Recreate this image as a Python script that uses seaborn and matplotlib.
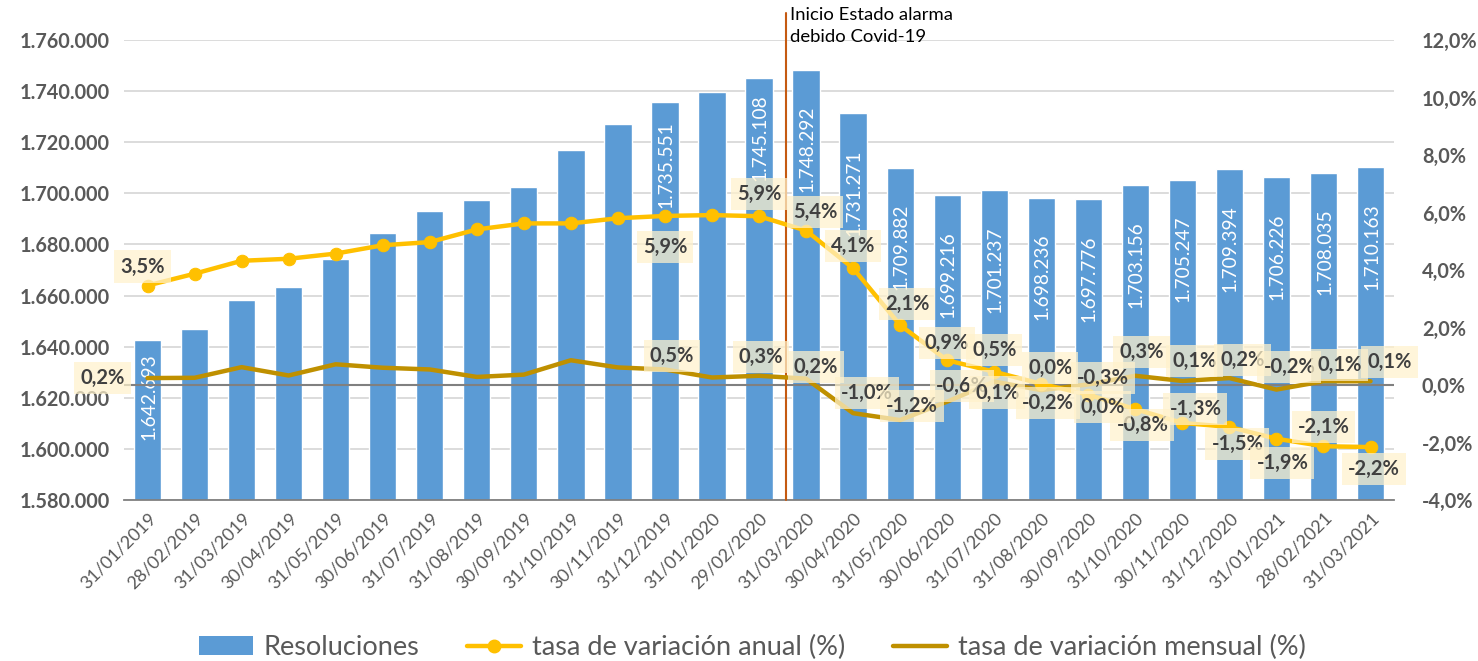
import numpy as np
import pandas as pd
import matplotlib
matplotlib.use('Agg')
import matplotlib.pyplot as plt
import seaborn as sns
from matplotlib.lines import Line2D
from matplotlib.patches import Patch
from matplotlib.ticker import FuncFormatter, FixedLocator

# Data
fechas = ['31/01/2019', '28/02/2019', '31/03/2019', '30/04/2019', '31/05/2019', '30/06/2019',
          '31/07/2019', '31/08/2019', '30/09/2019', '31/10/2019', '30/11/2019', '31/12/2019',
          '31/01/2020', '29/02/2020', '31/03/2020', '30/04/2020', '31/05/2020', '30/06/2020',
          '31/07/2020', '31/08/2020', '30/09/2020', '31/10/2020', '30/11/2020', '31/12/2020',
          '31/01/2021', '28/02/2021', '31/03/2021']
resoluciones = [1642693, 1646900, 1658300, 1663300, 1674200, 1684600,
                1693100, 1697400, 1702500, 1717000, 1727100, 1735551,
                1739700, 1745108, 1748292, 1731271, 1709882, 1699216,
                1701237, 1698236, 1697776, 1703156, 1705247, 1709394,
                1706226, 1708035, 1710163]
tasa_anual = [3.46, 3.87, 4.32, 4.39, 4.57, 4.86, 4.97, 5.41, 5.62, 5.62, 5.80, 5.88,
              5.91, 5.87, 5.37, 4.06, 2.08, 0.86, 0.46, 0.04, -0.34, -0.84, -1.32,
              -1.46, -1.87, -2.13, -2.16]
tasa_mensual = [0.24, 0.25, 0.62, 0.33, 0.72, 0.60, 0.54, 0.28, 0.36, 0.86, 0.61, 0.54,
                0.26, 0.32, 0.22, -0.98, -1.22, -0.58, 0.12, -0.18, 0.02, 0.32, 0.14,
                0.24, -0.16, 0.13, 0.13]

# which points carry a data label
bar_labels = [0, 11] + list(range(13, 27))
line_labels = [0, 11] + list(range(13, 27))

# label offsets in pixels (dx, dy) per point index
off_anual = {0: (-5, 19), 11: (0, -31), 13: (0, 22), 14: (9, 19), 15: (0, 22), 16: (7, 21),
             17: (0, 17), 18: (0, 22), 19: (9, 16), 20: (15, 17), 21: (7, -16), 22: (13, 14),
             23: (8, -17), 24: (6, -24), 25: (0, 19), 26: (3, -22)}
off_mensual = {0: (-45, 0), 11: (7, 13), 13: (2, 19), 14: (10, 12), 15: (14, 20), 16: (12, 14),
               17: (15, 16), 18: (3, -11), 19: (7, -13), 20: (14, -23), 21: (6, 24), 22: (12, 20),
               23: (13, 18), 24: (13, 23), 25: (16, 16), 26: (19, 19)}

df = pd.DataFrame({'fecha': fechas, 'resoluciones': resoluciones,
                   'anual': tasa_anual, 'mensual': tasa_mensual})
df['pos'] = np.arange(len(df))

sns.set_style('white')
plt.rcParams['font.family'] = ['Lato', 'DejaVu Sans']

azul = '#5B9BD5'
amarillo = '#FFC000'
oro = '#BF9000'
gris = '#595959'

fig = plt.figure(figsize=(14.78, 6.61), dpi=100)
ax = fig.add_axes([0.0839, 0.2436, 0.8593, 0.6959])

sns.barplot(data=df, x='fecha', y='resoluciones', color=azul, saturation=1,
            width=0.58, ax=ax, zorder=2)
ax.set_ylim(1580000, 1760000)
ax.set_xlim(-0.5, len(df) - 0.5)
ax.set_yticks(np.arange(1580000, 1760001, 20000))
ax.yaxis.set_major_formatter(FuncFormatter(lambda v, p: f'{int(v):,}'.replace(',', '.')))
ax.grid(axis='y', color='#D9D9D9', linewidth=1.3, zorder=0)
ax.set_axisbelow(True)
ax.set_xlabel('')
ax.set_ylabel('')
for s in ['top', 'right', 'left']:
    ax.spines[s].set_visible(False)
ax.spines['bottom'].set_color('#808080')
ax.spines['bottom'].set_linewidth(1.3)
ax.tick_params(axis='y', length=0, labelsize=14.3, labelcolor=gris, pad=10)
for t in ax.get_yticklabels():
    t.set_fontweight('bold')
ax.tick_params(axis='x', which='major', length=0, labelsize=13, labelcolor=gris, pad=7)
ax.xaxis.set_minor_locator(FixedLocator(np.arange(-0.5, len(df), 1.0)))
ax.tick_params(axis='x', which='minor', length=7, color='#808080', width=1.3)
plt.setp(ax.get_xticklabels(), rotation=45, ha='right', rotation_mode='anchor')

# bar value labels (white, vertical, inside top)
top_gap = {0: -13, 11: -19, 13: -16}
for i in bar_labels:
    v = resoluciones[i]
    ax.annotate(f'{v:,}'.replace(',', '.'), xy=(i, v), xytext=(1, top_gap.get(i, -36)),
                textcoords='offset pixels', rotation=90, ha='center', va='top',
                color='white', fontsize=13.8, zorder=5)

# secondary axis with the two rates
ax2 = ax.twinx()
ax2.set_ylim(-4, 12)
ax2.set_yticks(np.arange(-4, 12.01, 2))
ax2.yaxis.set_major_formatter(FuncFormatter(lambda v, p: f'{v:.1f}'.replace('.', ',') + '%'))
for s in ['top', 'right', 'left', 'bottom']:
    ax2.spines[s].set_visible(False)
ax2.tick_params(axis='y', length=0, labelsize=14.3, labelcolor=gris, pad=20)
for t in ax2.get_yticklabels():
    t.set_fontweight('bold')
ax2.axhline(0, color='#808080', linewidth=1.5, zorder=1)

sns.lineplot(x=df['pos'], y=df['mensual'], color=oro, linewidth=3.2, ax=ax2, zorder=3)
sns.lineplot(x=df['pos'], y=df['anual'], color=amarillo, linewidth=3.2, marker='o',
             markersize=9, markeredgecolor=amarillo, ax=ax2, zorder=4)
ax2.set_xlim(-0.5, len(df) - 0.5)
ax2.set_ylabel('')
ax2.set_xlabel('')

caja = dict(boxstyle='square,pad=0.3', facecolor='#FFF2CC', edgecolor='none', alpha=0.72)
for i in line_labels:
    v = tasa_anual[i]
    ax2.annotate(f'{v:.1f}'.replace('.', ',') + '%', xy=(i, v), xytext=off_anual[i],
                 textcoords='offset pixels', ha='center', va='center', fontsize=14.5,
                 fontweight='bold', color='#404040', bbox=caja, zorder=6)
for i in line_labels:
    v = tasa_mensual[i]
    ax2.annotate(f'{v:.1f}'.replace('.', ',') + '%', xy=(i, v), xytext=off_mensual[i],
                 textcoords='offset pixels', ha='center', va='center', fontsize=14.5,
                 fontweight='bold', color='#404040', bbox=caja, zorder=6)

# state of alarm marker
ax2.axvline(13.57, ymin=0, ymax=1.059, color='#C55A11', linewidth=1.5, clip_on=False, zorder=2)
ax2.annotate('Inicio Estado alarma\ndebido Covid-19', xy=(13.65, 1.072),
             xycoords=('data', 'axes fraction'), ha='left', va='top', fontsize=13.3,
             color='black', linespacing=1.45)

handles = [Patch(facecolor=azul, edgecolor='none'),
           Line2D([], [], color=amarillo, linewidth=3.2, marker='o', markersize=9),
           Line2D([], [], color=oro, linewidth=3.2)]
labels = ['Resoluciones', 'tasa de variación anual (%)', 'tasa de variación mensual (%)']
leg = fig.legend(handles, labels, loc='center', bbox_to_anchor=(0.509, 0.02), ncol=3,
                 frameon=False, fontsize=19.5, handlelength=2.0, columnspacing=1.75,
                 handletextpad=0.4)
for t in leg.get_texts():
    t.set_color(gris)

fig.savefig('out.png', dpi=100)
